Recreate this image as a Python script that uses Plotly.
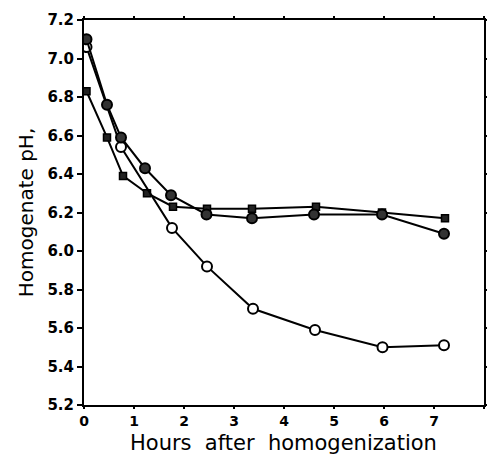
import plotly.graph_objects as go

# Open circles series
open_x = [0.05, 0.74, 1.76, 2.46, 3.38, 4.62, 5.97, 7.2]
open_y = [7.06, 6.54, 6.12, 5.92, 5.70, 5.59, 5.50, 5.51]

# Filled circles series
fill_x = [0.05, 0.46, 0.74, 1.22, 1.74, 2.45, 3.36, 4.6, 5.96, 7.2]
fill_y = [7.10, 6.76, 6.59, 6.43, 6.29, 6.19, 6.17, 6.19, 6.19, 6.09]

# Filled squares series
sq_x = [0.05, 0.46, 0.78, 1.26, 1.78, 2.46, 3.36, 4.64, 5.96, 7.22]
sq_y = [6.83, 6.59, 6.39, 6.30, 6.23, 6.22, 6.22, 6.23, 6.20, 6.17]

x_ticks = [0, 1, 2, 3, 4, 5, 6, 7, 8]
y_ticks = [5.2, 5.4, 5.6, 5.8, 6.0, 6.2, 6.4, 6.6, 6.8, 7.0, 7.2]

x_title = "Hours\u00a0\u00a0after\u00a0\u00a0homogenization"
y_title = "Homogenate pH,"

FONT = "DejaVu Sans, Liberation Sans, Arial, sans-serif"

fig = go.Figure()
fig.add_trace(go.Scatter(x=sq_x, y=sq_y, mode="lines+markers",
                         line=dict(color="black", width=2),
                         marker=dict(symbol="square", size=7, color="#222",
                                     line=dict(color="black", width=1.5))))
fig.add_trace(go.Scatter(x=open_x, y=open_y, mode="lines+markers",
                         line=dict(color="black", width=2),
                         marker=dict(symbol="circle", size=10, color="white",
                                     line=dict(color="black", width=2))))
fig.add_trace(go.Scatter(x=fill_x, y=fill_y, mode="lines+markers",
                         line=dict(color="black", width=2),
                         marker=dict(symbol="circle", size=10, color="#333",
                                     line=dict(color="black", width=2))))

fig.update_layout(
    width=487, height=454,
    margin=dict(l=84, r=3, t=20, b=49, autoexpand=False),
    paper_bgcolor="white", plot_bgcolor="white",
    showlegend=False,
    font=dict(family=FONT, color="black"),
    annotations=[dict(text=x_title, xref="paper", yref="paper", x=0.4975, y=0,
                      xanchor="center", yanchor="top", yshift=-24, showarrow=False,
                      font=dict(size=21, family=FONT))],
)
fig.update_xaxes(range=[0, 8], tickvals=x_ticks, ticktext=[str(v) for v in x_ticks],
                 automargin=False,
                 showgrid=False, zeroline=False, showline=True, linecolor="black",
                 linewidth=2, mirror="ticks", ticks="outside", ticklen=2, tickwidth=2,
                 tickcolor="black",
                 tickfont=dict(size=14, family=FONT, weight="bold"))
fig.update_yaxes(range=[5.2, 7.2], tickvals=y_ticks, ticktext=["%.1f" % v for v in y_ticks],
                 automargin=False,
                 showgrid=False, zeroline=False, showline=True, linecolor="black",
                 linewidth=2, mirror="ticks", ticks="outside", ticklen=5, tickwidth=2,
                 tickcolor="black",
                 tickfont=dict(size=15, family=FONT, weight="bold"),
                 title=dict(text=y_title, standoff=8,
                            font=dict(size=20, family=FONT)))

fig.write_html("out.html", config={"displayModeBar": False},
               post_script="document.body.style.margin='0';document.body.style.overflow='hidden';")
